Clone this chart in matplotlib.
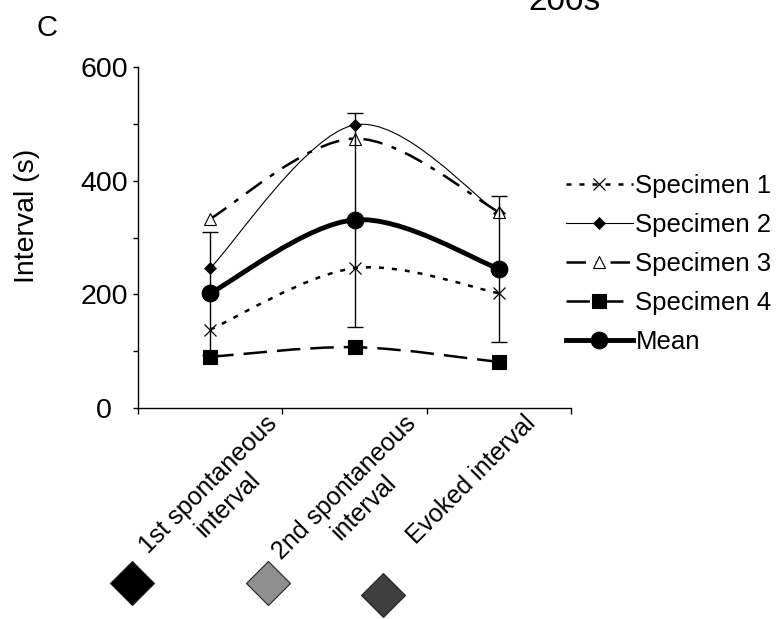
import numpy as np
import matplotlib
matplotlib.use("Agg")
import matplotlib.pyplot as plt
from matplotlib.path import Path
from matplotlib.patches import PathPatch
from matplotlib.lines import Line2D

plt.rcParams['font.family'] = ['Liberation Sans', 'DejaVu Sans']

# data
categories = ["1st spontaneous\ninterval", "2nd spontaneous\ninterval", "Evoked interval"]
specimen1 = [138, 246, 202]
specimen2 = [246, 498, 343]
specimen3 = [333, 474, 345]
specimen4 = [90, 107, 81]
mean = [202, 331, 245]
mean_err = [108, 188, 128]
swatch_colors = ["#000000", "#8f8f8f", "#404040"]

x = np.arange(len(categories)) + 0.5


def smooth_path(xs, ys):
    # excel-like smoothed line: bezier segments through the points
    pts = np.column_stack([xs, ys]).astype(float)
    n = len(pts)
    verts = [pts[0]]
    codes = [Path.MOVETO]
    for i in range(n - 1):
        p0 = pts[max(i - 1, 0)]
        p1 = pts[i]
        p2 = pts[i + 1]
        p3 = pts[min(i + 2, n - 1)]
        c1 = p1 + (p2 - p0) / 6.0
        c2 = p2 - (p3 - p1) / 6.0
        verts += [c1, c2, p2]
        codes += [Path.CURVE4] * 3
    return Path(verts, codes)


fig = plt.figure(figsize=(7.78, 6.19), dpi=100)
ax = fig.add_axes([138 / 778, 1 - 408 / 619, 433 / 778, 341 / 619])

series = [
    dict(y=specimen1, label="Specimen 1", lw=1.8, dashes=(2.0, 3.2), marker='x', ms=8, mfc='k', mew=0.9),
    dict(y=specimen2, label="Specimen 2", lw=0.8, dashes=None, marker='D', ms=6, mfc='k', mew=0.5),
    dict(y=specimen3, label="Specimen 3", lw=1.8, dashes=(7.8, 3.9, 2.0, 3.9), marker='^', ms=8, mfc='white', mew=0.8),
    dict(y=specimen4, label="Specimen 4", lw=1.8, dashes=(9.4, 4.0), marker='s', ms=10, mfc='k', mew=0.8),
    dict(y=mean, label="Mean", lw=3.5, dashes=None, marker='o', ms=12, mfc='k', mew=0.8),
]

handles = []
for s in series:
    ls = '-' if s['dashes'] is None else (0, s['dashes'])
    patch = PathPatch(smooth_path(x, s['y']), facecolor='none', edgecolor='k',
                      lw=s['lw'], linestyle=ls, capstyle='butt', zorder=3)
    ax.add_patch(patch)
    ax.plot(x, s['y'], linestyle='none', marker=s['marker'], ms=s['ms'],
            mfc=s['mfc'], mec='k', mew=s['mew'], zorder=4)
    h = Line2D([], [], color='k', lw=s['lw'], linestyle=ls, marker=s['marker'],
               ms=s['ms'], mfc=s['mfc'], mec='k', mew=s['mew'])
    handles.append(h)

ax.errorbar(x, mean, yerr=mean_err, fmt='none', ecolor='k', elinewidth=1.0,
            capsize=6, capthick=1.0, zorder=5)

ax.set_xlim(0, 3)
ax.set_ylim(0, 600)
ax.spines['top'].set_visible(False)
ax.spines['right'].set_visible(False)
ax.spines['left'].set_linewidth(1.0)
ax.spines['bottom'].set_linewidth(1.0)

ax.set_xticks([0, 1, 2, 3])
ax.set_xticklabels([])
ax.tick_params(axis='x', direction='out', length=4, width=1)

ax.set_yticks([0, 200, 400, 600])
ax.set_yticklabels(['0', '200', '400', '600'], fontsize=20.5)
ax.set_yticks([100, 300, 500], minor=True)
ax.tick_params(axis='y', which='both', direction='out', length=3.6, width=1, pad=3.6)
ax.yaxis.get_major_ticks()[0].label1.set_x(-16 / 433)

ax.set_ylabel("Interval (s)", fontsize=20.5)
ax.yaxis.set_label_coords(-0.226, 0.563)

# rotated category labels
label_shift = [0.38, 0.34, 0.17]
for xi, lab, dx in zip(x, categories, label_shift):
    ax.text(xi + dx, -0.01, lab, transform=ax.get_xaxis_transform(),
            rotation=45, rotation_mode='anchor', ha='right', va='top',
            multialignment='center', fontsize=18)

leg = fig.legend(handles, [s['label'] for s in series], loc='upper left',
                 bbox_to_anchor=(566 / 778, 1 - 174 / 619), frameon=False,
                 fontsize=18.5, handlelength=2.6, handletextpad=0.1,
                 labelspacing=0.58, borderpad=0, borderaxespad=0)

fig.text(37 / 778, 1 - 28 / 619, "C", fontsize=21, ha='left', va='center')
fig.text(564 / 778, 1 - 10 / 619, "200s", fontsize=24, ha='center', va='baseline')

# colour swatches below the axis
swatch_pos = [(132, 583), (268, 583), (383, 595)]
for (px, py), c in zip(swatch_pos, swatch_colors):
    fig.add_artist(Line2D([px / 778], [1 - py / 619], transform=fig.transFigure,
                          marker='D', ms=22, mfc=c, mec='#222222', mew=0.8,
                          linestyle='none'))

fig.savefig("out.png", dpi=100)
